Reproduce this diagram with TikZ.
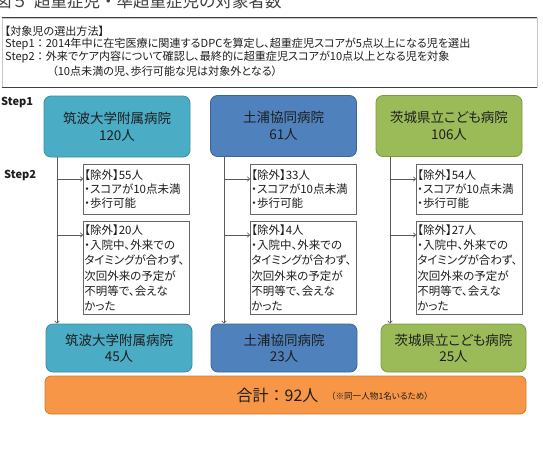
\documentclass[tikz,border=0pt]{standalone}
\usepackage{fontspec}
\setmainfont{Noto Sans CJK JP}[RawFeature=+palt]
\newfontfamily\fw{Noto Sans CJK JP}
\usetikzlibrary{arrows.meta}
\definecolor{tealF}{HTML}{4BACC6}
\definecolor{tealD}{HTML}{3A8DA5}
\definecolor{blueF}{HTML}{4F81BD}
\definecolor{blueD}{HTML}{3B6596}
\definecolor{greenF}{HTML}{9BBB59}
\definecolor{greenD}{HTML}{7A9A3E}
\definecolor{orangeF}{HTML}{F79646}
\definecolor{orangeD}{HTML}{D27A30}
\definecolor{txt}{HTML}{1E1E1E}
\tikzset{
  hosp/.style={rounded corners=7pt, line width=0.8pt, minimum width=146pt, align=center,
    font=\fontsize{13.5}{17}\selectfont, text=txt, inner sep=0pt},
  excl/.style={draw=black!60, line width=0.7pt, fill=white, text width=104pt, inner xsep=1pt,
    inner ysep=0pt, align=left, anchor=north west, text=txt},
  arr/.style={draw=black!65, line width=0.6pt, -{To[length=3pt,width=5pt]}},
  crittxt/.style={anchor=west, font=\fontsize{11.1}{13}\selectfont, inner sep=0pt, text=txt},
  steplbl/.style={anchor=west, font=\fontsize{11}{13}\selectfont\bfseries, inner sep=0pt, text=txt},
}
\begin{document}
\begin{tikzpicture}[x=1pt,y=-1pt]
\clip (0,0) rectangle (543,464);
\fill[white] (0,0) rectangle (543,464);
% title (clipped at top, as in the reference)
\node[anchor=base west, inner sep=0pt, font=\fw\fontsize{16.5}{18}\selectfont, text=black!75] (title) at (-5,7.5) {図５\hspace{6pt}超重症児・準超重症児の対象者数};
% criteria box
\node[draw=black!22, line width=0.6pt, minimum width=535pt, minimum height=69pt, inner sep=0pt] (crit) at (269.5,52.5) {};
\draw[black!75, line width=0.9pt] (crit.north west) -- (crit.north east);
\draw[black!75, line width=0.9pt] (crit.south west) -- (crit.south east);
\node[crittxt] (c0) at (4.5,31) {【対象児の選出方法】};
\node[crittxt] (c1) at (5,44) {Step1{\fw ：}2014年中に在宅医療に関連するDPCを算定し、超重症児スコアが5点以上になる児を選出};
\node[crittxt] (c2) at (5,57.5) {Step2{\fw ：}外来でケア内容について確認し、最終的に超重症児スコアが10点以上となる児を対象};
\node[crittxt] (c3) at (52,71) {（10点未満の児、歩行可能な児は対象外となる）};
% step labels
\node[steplbl] (s1) at (1,102) {Step1};
\node[steplbl] (s2) at (4,175.5) {Step2};
% top hospital boxes
\node[hosp, fill=tealF, draw=tealD, minimum height=61pt] (t1) at (117,126.5) {筑波大学附属病院\\120人};
\node[hosp, fill=blueF, draw=blueD, minimum height=61pt] (t2) at (283.5,126) {土浦協同病院\\61人};
\node[hosp, fill=greenF, draw=greenD, minimum height=61pt] (t3) at (449,126) {茨城県立こども病院\\106人};
% exclusion boxes
\node[excl, minimum height=50pt, font=\fontsize{11.5}{14}\selectfont] (e1a) at (83,164) {【除外】55人\\・スコアが10点未満\\・歩行可能};
\node[excl, minimum height=93pt, font=\fontsize{11.5}{15.2}\selectfont] (e1b) at (83,221) {【除外】20人\\・入院中、外来での\\タイミングが合わず、\\次回外来の予定が\\不明等で、会えな\\かった};
\node[excl, minimum height=50pt, font=\fontsize{11.5}{14}\selectfont] (e2a) at (250,164) {【除外】33人\\・スコアが10点未満\\・歩行可能};
\node[excl, minimum height=93pt, font=\fontsize{11.5}{15.2}\selectfont] (e2b) at (250,221) {【除外】4人\\・入院中、外来での\\タイミングが合わず、\\次回外来の予定が\\不明等で、会えな\\かった};
\node[excl, minimum height=50pt, font=\fontsize{11.5}{14}\selectfont] (e3a) at (416,164) {【除外】54人\\・スコアが10点未満\\・歩行可能};
\node[excl, minimum height=93pt, font=\fontsize{11.5}{15.2}\selectfont] (e3b) at (416,221) {【除外】27人\\・入院中、外来での\\タイミングが合わず、\\次回外来の予定が\\不明等で、会えな\\かった};
% bottom hospital boxes
\node[hosp, fill=tealF, draw=tealD, minimum height=48pt, font=\fontsize{13.5}{16}\selectfont] (b1) at (119,348) {筑波大学附属病院\\45人};
\node[hosp, fill=blueF, draw=blueD, minimum height=48pt, font=\fontsize{13.5}{16}\selectfont] (b2) at (284,348) {土浦協同病院\\23人};
\node[hosp, fill=greenF, draw=greenD, minimum height=48pt, minimum width=145pt, font=\fontsize{13.5}{16}\selectfont] (b3) at (453.5,348) {茨城県立こども病院\\25人};
% total
\node[rounded corners=6pt, fill=orangeF, draw=orangeD, line width=0.8pt, minimum width=481pt, minimum height=38pt, inner sep=0pt] (tot) at (285.5,395) {};
\node[inner sep=0pt, font=\fontsize{16}{18}\selectfont, text=txt] (totlab) at (277.5,395) {合計{\fw ：}92人};
\node[anchor=west, inner sep=0pt, font=\fontsize{8.6}{9}\selectfont, text=txt] (note) at (331,396.5) {（※同一人物1名いるため）};
% flow lines
\coordinate (v1) at (57,0);
\coordinate (v2) at (224,0);
\coordinate (v3) at (390,0);
\draw[arr] (t1.south -| v1) -- (b1.north -| v1);
\draw[arr] (t2.south -| v2) -- (b2.north -| v2);
\draw[arr] (t3.south -| v3) -- (b3.north -| v3);
\coordinate (h1a) at (57,179);
\coordinate (h1b) at (57,235);
\coordinate (h2a) at (224,179);
\coordinate (h2b) at (224,235);
\coordinate (h3a) at (390,179);
\coordinate (h3b) at (390,235);
\draw[arr] (h1a) -- (h1a -| e1a.west);
\draw[arr] (h1b) -- (h1b -| e1b.west);
\draw[arr] (h2a) -- (h2a -| e2a.west);
\draw[arr] (h2b) -- (h2b -| e2b.west);
\draw[arr] (h3a) -- (h3a -| e3a.west);
\draw[arr] (h3b) -- (h3b -| e3b.west);
\end{tikzpicture}
\end{document}
